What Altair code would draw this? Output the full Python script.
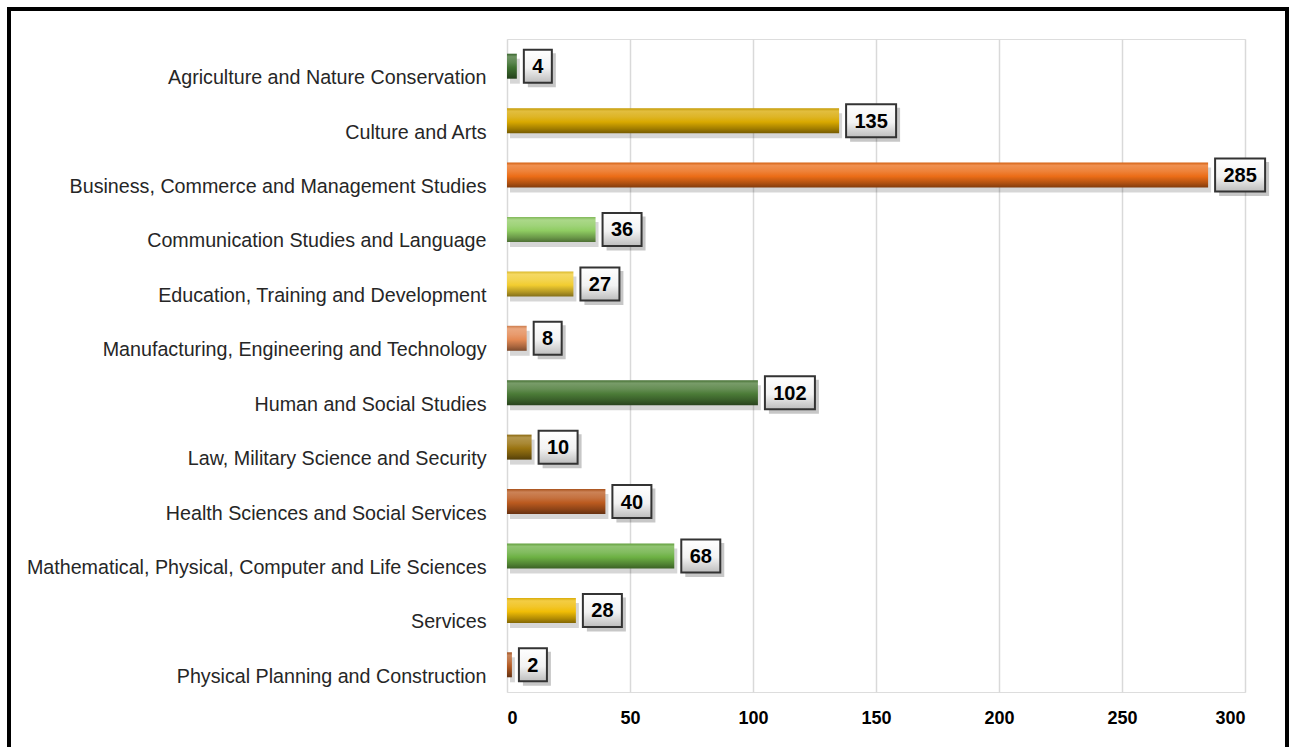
import altair as alt
import pandas as pd

categories = [
    "Agriculture and Nature Conservation",
    "Culture and Arts",
    "Business, Commerce and Management Studies",
    "Communication Studies and Language",
    "Education, Training and Development",
    "Manufacturing, Engineering and Technology",
    "Human and Social Studies",
    "Law, Military Science and Security\u00a0",
    "Health Sciences and Social Services",
    "Mathematical, Physical, Computer and Life Sciences",
    "Services",
    "Physical Planning and Construction",
]
values = [4, 135, 285, 36, 27, 8, 102, 10, 40, 68, 28, 2]
bar_colors = ["#3f7131", "#d9a900", "#ec6d17", "#8fcc62", "#f2cd30", "#e48a55",
              "#4b7b37", "#9a7411", "#bb5a1f", "#6db144", "#f0bd06", "#b45b23"]
x_ticks = [0, 50, 100, 150, 200, 250, 300]

W, H = 738, 653
PX = W / 300.0
FONT = "Liberation Sans, Arial, sans-serif"

df = pd.DataFrame({"cat": categories, "value": values})


def shade(hexc, f):
    h = hexc.lstrip("#")
    r, g, b = int(h[0:2], 16), int(h[2:4], 16), int(h[4:6], 16)
    if f >= 0:
        r, g, b = [int(c + (255 - c) * f) for c in (r, g, b)]
    else:
        r, g, b = [int(c * (1 + f)) for c in (r, g, b)]
    return "#%02x%02x%02x" % (r, g, b)


y_enc = alt.Y("cat:N", sort=categories, title=None,
              axis=alt.Axis(labelFontSize=19.7, labelFont=FONT,
                            labelColor="#262626", labelPadding=21, ticks=False,
                            domain=False, grid=False, labelLimit=600, labelOffset=12))
x_scale = alt.Scale(domain=[0, 300], nice=False)
x_enc = alt.X("value:Q", scale=x_scale, title=None,
              axis=alt.Axis(values=x_ticks, labelFontSize=18, labelFontWeight="bold",
                            labelFont=FONT, labelColor="#000000", labelPadding=17,
                            ticks=False, domain=False, grid=True, gridColor="#d9d9d9",
                            gridWidth=1.5))

base = alt.Chart(df)

frame = base.mark_rect(fill=None, stroke="#000000", strokeWidth=3.5).encode(
    x=alt.value(9 - 507), x2=alt.value(1287 - 507),
    y=alt.value(9 - 39), y2=alt.value(720),
)

bar_shadow = base.mark_bar(size=25, color="#000000", opacity=0.16, xOffset=3, yOffset=5).encode(
    x=x_enc, y=y_enc)

bar_layers = []
for c, col in zip(categories, bar_colors):
    grad = alt.Gradient(
        gradient="linear", x1=0, x2=0, y1=0, y2=1,
        stops=[
            alt.GradientStop(offset=0, color=shade(col, -0.1)),
            alt.GradientStop(offset=0.12, color=shade(col, 0.25)),
            alt.GradientStop(offset=0.35, color=shade(col, 0.15)),
            alt.GradientStop(offset=0.55, color=col),
            alt.GradientStop(offset=0.82, color=shade(col, -0.25)),
            alt.GradientStop(offset=1, color=shade(col, -0.45)),
        ],
    )
    bar_layers.append(
        base.transform_filter(alt.datum.cat == c).mark_bar(size=25, color=grad).encode(
            x=alt.X("value:Q", scale=x_scale), y=alt.Y("cat:N", sort=categories))
    )

box_base = base.transform_calculate(
    digits="length(toString(datum.value))",
).transform_calculate(
    bx1="datum.value + 7 / %f" % PX,
    bx2="datum.value + (7 + 17 + 11 * datum.digits) / %f" % PX,
).transform_calculate(
    bxm="(datum.bx1 + datum.bx2) / 2",
)

box_shadow = box_base.mark_bar(size=34, color="#000000", opacity=0.22, xOffset=4, x2Offset=4, yOffset=4).encode(
    x=alt.X("bx1:Q", scale=x_scale), x2="bx2:Q", y=alt.Y("cat:N", sort=categories))

box_grad = alt.Gradient(
    gradient="linear", x1=0, x2=0, y1=0, y2=1,
    stops=[alt.GradientStop(offset=0, color="#ffffff"),
           alt.GradientStop(offset=0.55, color="#f2f2f2"),
           alt.GradientStop(offset=1, color="#bdbdbd")],
)
box = box_base.mark_bar(size=33, color=box_grad, stroke="#333333", strokeWidth=2).encode(
    x=alt.X("bx1:Q", scale=x_scale), x2="bx2:Q", y=alt.Y("cat:N", sort=categories))

labels = box_base.mark_text(fontSize=20, fontWeight="bold", font=FONT, color="#000000",
                            baseline="middle", dy=1).encode(
    x=alt.X("bxm:Q", scale=x_scale), y=alt.Y("cat:N", sort=categories), text="value:Q")

chart = alt.layer(frame, bar_shadow, *bar_layers, box_shadow, box, labels).properties(
    width=W, height=H,
    autosize=alt.AutoSizeParams(type="none"),
    padding={"left": 507, "top": 39, "right": 1295 - 507 - W, "bottom": 747 - 39 - H},
).configure_view(strokeWidth=0, stroke="transparent").configure(background="#ffffff")

chart.save("out.html", embed_options={"renderer": "svg", "actions": False})
